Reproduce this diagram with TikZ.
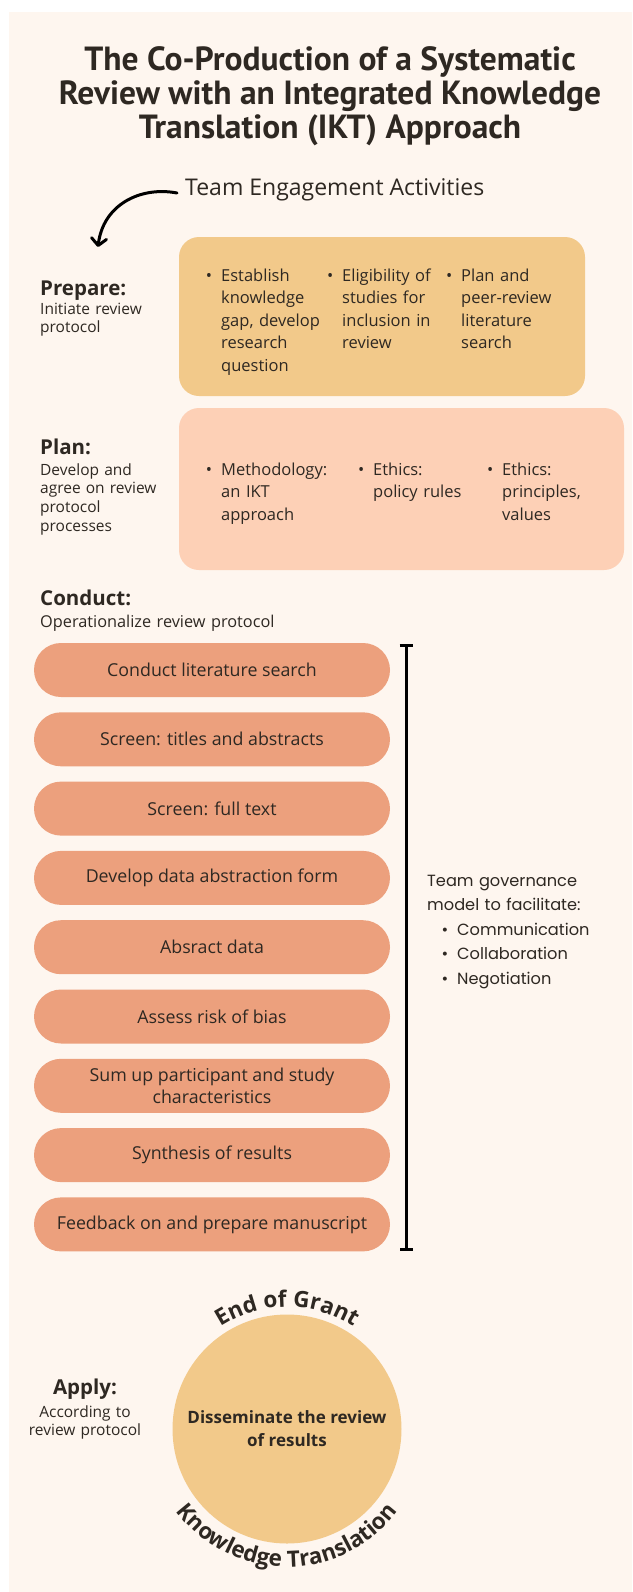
\documentclass[tikz,border=0pt]{standalone}
\usepackage{fontspec}
\setmainfont{Open Sans}
\newfontfamily\titlefont{PT Sans}
\newfontfamily\govfont{Poppins}
\usetikzlibrary{arrows.meta,decorations.text,positioning}

\definecolor{paper}{HTML}{FEF6EF}
\definecolor{ink}{HTML}{2E2822}
\definecolor{gold}{HTML}{F2C98A}
\definecolor{peach}{HTML}{FDD0B6}
\definecolor{salmon}{HTML}{ECA07D}

\newcommand{\bul}{\makebox[0pt][r]{\textbullet\hspace{9pt}}}
\newcommand{\arcfont}{\bfseries\fontsize{22.5}{22.5}\selectfont}

\tikzset{
  title/.style={align=center, text=ink, inner sep=0, font=\titlefont\bfseries\fontsize{33.5}{34}\selectfont},
  hand/.style={text=ink, inner sep=0, font=\fontsize{23}{23}\selectfont},
  stage/.style={anchor=base west, text=ink, inner sep=0, font=\bfseries\fontsize{20.5}{20.5}\selectfont},
  sub/.style={anchor=base west, align=left, text width=150pt, text=ink, inner sep=0, font=\fontsize{15.5}{18.8}\selectfont},
  item/.style={anchor=base west, align=left, text width=110pt, text=ink, inner sep=0, font=\fontsize{16.5}{22.5}\selectfont},
  panel/.style={rounded corners=20pt, inner sep=0},
  pill/.style={fill=salmon, rounded corners=27pt, minimum width=356pt, minimum height=54pt, inner sep=0, align=center, text=ink, font=\fontsize{17.8}{22}\selectfont},
  gov/.style={anchor=base west, align=left, text width=190pt, text=ink, inner sep=0, font=\govfont\fontsize{16.2}{24.5}\selectfont},
  curly/.style={line width=3pt, line cap=round, -{Straight Barb[length=7pt,width=15pt,round]}},
}

\begin{document}
\begin{tikzpicture}[x=1pt, y=-1pt]
\useasboundingbox (0,0) rectangle (632,1592);
\fill[white] (0,0) rectangle (632,1592);
\fill[paper] (9,12) rectangle (632,1592);

% title
\node[title] (title) at (330,96) {The Co-Production of a Systematic\\Review with an Integrated Knowledge\\Translation (IKT) Approach};

% team engagement label and curved arrow
\node[hand, anchor=west] (team) at (185,190) {Team Engagement Activities};
\coordinate (arrtip) at (98,247);
\draw[curly] ([xshift=-8pt,yshift=-3pt]team.west) .. controls (140,186) and (103,205) .. (arrtip);

% prepare
\node[stage] (prep) at (40,295) {Prepare:};
\node[sub] (prepsub) at (40,314) {Initiate review\\protocol};
\node[panel, fill=gold, minimum width=406pt, minimum height=159pt] (prepbox) at (382,316.5) {};
\node[item] (prep1) at (221,281) {\bul Establish\\knowledge\\gap, develop\\research\\question};
\node[item] (prep2) at (342,281) {\bul Eligibility of\\studies for\\inclusion in\\review};
\node[item] (prep3) at (461,281) {\bul Plan and\\peer-review\\literature\\search};

% plan
\node[stage] (plan) at (40,454) {Plan:};
\node[sub] (plansub) at (40,475) {Develop and\\agree on review\\protocol\\processes};
\node[panel, fill=peach, minimum width=445pt, minimum height=162pt] (planbox) at (401.5,489) {};
\node[item] (plan1) at (221,475) {\bul Methodology:\\an IKT\\approach};
\node[item] (plan2) at (373,475) {\bul Ethics:\\policy rules};
\node[item] (plan3) at (502,475) {\bul Ethics:\\principles,\\values};

% conduct
\node[stage] (cond) at (40,605) {Conduct:};
\node[sub, text width=300pt, font=\fontsize{16.3}{18}\selectfont] (condsub) at (40,627) {Operationalize review protocol};

\node[pill] (step1) at (212,670) {Conduct literature search};
\node[pill] (step2) at (212,739.3) {Screen: titles and abstracts};
\node[pill] (step3) at (212,808.6) {Screen: full text};
\node[pill] (step4) at (212,877.9) {Develop data abstraction form};
\node[pill] (step5) at (212,947.2) {Absract data};
\node[pill] (step6) at (212,1016.5) {Assess risk of bias};
\node[pill] (step7) at (212,1085.8) {Sum up participant and study\\characteristics};
\node[pill] (step8) at (212,1155.1) {Synthesis of results};
\node[pill] (step9) at (212,1224.4) {Feedback on and prepare manuscript};

% governance bracket
\coordinate (brtop) at (406,644);
\coordinate (brbot) at (406,1251);
\draw[line width=3pt, {Bar[width=13pt]}-{Bar[width=13pt]}] (brtop) -- (brbot);
\node[gov] (gov) at (427,886) {Team governance\\model to facilitate:};
\node[gov] (govlist) at (457,935) {\bul Communication\\\bul Collaboration\\\bul Negotiation};

% apply
\node[stage, anchor=base] (apply) at (85,1394) {Apply:};
\node[sub, anchor=base, align=center, text width=140pt] (applysub) at (85,1417) {According to\\review protocol};

\node[circle, fill=gold, minimum size=229pt, inner sep=0, align=center, text=ink, font=\bfseries\fontsize{17}{23}\selectfont] (dissem) at (287,1429) {Disseminate the review\\of results};

\begin{scope}[shift={(dissem.center)}, y=1pt]
  \path[decorate, decoration={text along path, text align=center, text color=ink, text={|\arcfont|End of Grant}}]
    (150:122) arc[start angle=150, end angle=30, radius=122];
  \path[decorate, decoration={text along path, text align=center, text color=ink, text={|\arcfont|Knowledge Translation}}]
    (205:138) arc[start angle=205, end angle=335, radius=138];
\end{scope}
\end{tikzpicture}
\end{document}
